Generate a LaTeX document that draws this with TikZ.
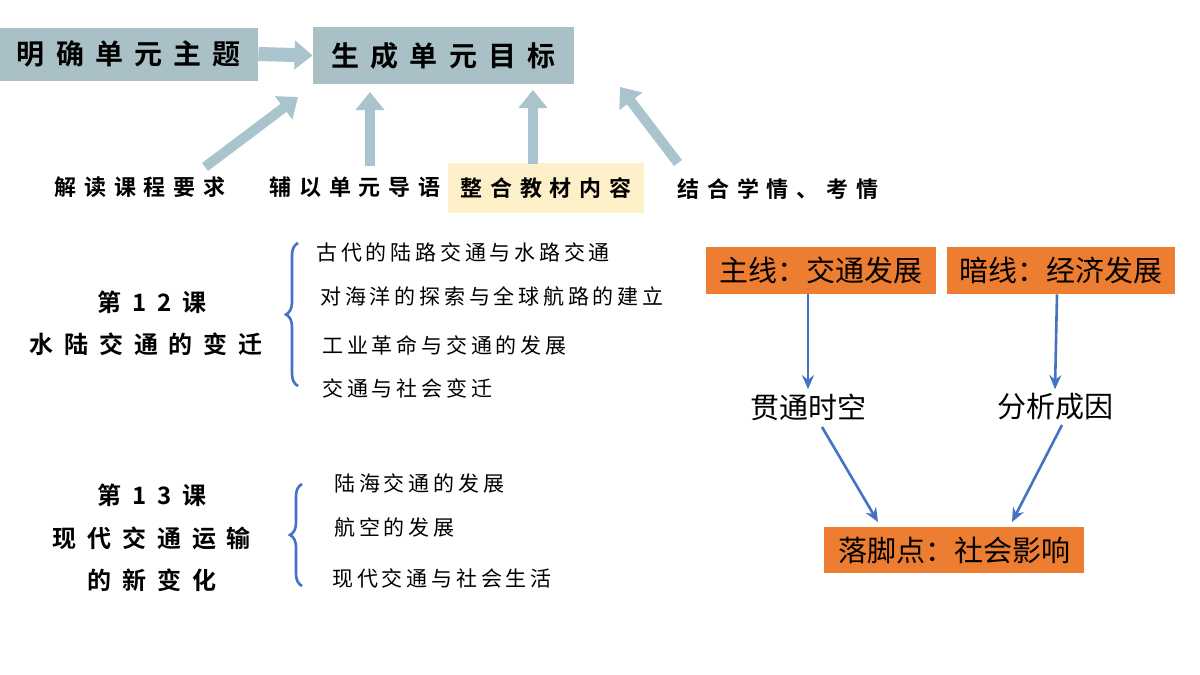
\documentclass[tikz,border=0pt]{standalone}
\usepackage{fontspec}
\usepackage{tikz}
\usetikzlibrary{arrows.meta,decorations.pathreplacing}
\newfontfamily\cjk{Noto Sans CJK SC}
\newfontfamily\cjkitem[LetterSpace=18]{Noto Sans CJK SC}
\newfontfamily\cjktitle[LetterSpace=40]{Noto Sans CJK SC Bold}
\newfontfamily\cjkup[LetterSpace=35]{Noto Sans CJK SC Bold}
\newfontfamily\cjklesson[LetterSpace=45]{Noto Sans CJK SC Bold}
\definecolor{titlebox}{HTML}{A9C1C6}
\definecolor{bigarrow}{HTML}{A9C4CC}
\definecolor{mainorange}{HTML}{ED7D31}
\definecolor{lineblue}{HTML}{4472C4}
\definecolor{paleyellow}{HTML}{FDF0C8}
\tikzset{
  titlenode/.style={fill=titlebox,font=\cjktitle\fontsize{14}{16}\selectfont,inner sep=0pt},
  uplabel/.style={font=\cjkup\fontsize{11}{13}\selectfont,inner sep=1pt},
  lessonlabel/.style={font=\cjklesson\fontsize{12}{14}\selectfont,inner sep=1pt},
  itemlabel/.style={font=\cjkitem\fontsize{10.5}{12}\selectfont,anchor=west,inner sep=1pt},
  orangebox/.style={fill=mainorange,font=\cjk\fontsize{14.5}{16}\selectfont,inner sep=0pt},
  sidelabel/.style={font=\cjk\fontsize{14.5}{16}\selectfont,inner sep=2pt},
  fatarrow/.style={draw=bigarrow,line width=5pt,-{Triangle[length=9pt,width=14pt]}},
  bluearrow/.style={draw=lineblue,line width=1.3pt,-{Stealth[length=7pt,width=6pt]}},
  bracestyle/.style={draw=lineblue,line width=1.3pt,decorate,decoration={brace,amplitude=6pt,mirror}}
}
\begin{document}
\begin{tikzpicture}[x=0.5pt,y=-0.5pt]
  \useasboundingbox[fill=white] (0,0) rectangle (1200,675);

  % top row
  \node[titlenode,minimum width=129pt,minimum height=26.5pt] (theme) at (129,54) {明确单元主题};
  \node[titlenode,minimum width=130.5pt,minimum height=28.5pt] (goal) at (443.5,55.5) {生成单元目标};
  \draw[fatarrow,line width=7pt] (theme.east) -- (goal.west);

  \node[uplabel] (req) at (140,187) {解读课程要求};
  \node[uplabel] (intro) at (355,187) {辅以单元导语};
  \node[uplabel,fill=paleyellow,minimum width=98pt,minimum height=25pt] (text) at (546,188) {整合教材内容};
  \node[uplabel] (situ) at (778,189) {结合学情、考情};
  \coordinate (a1) at (205,167);
  \coordinate (a2) at (370,166);
  \coordinate (a3) at (533,164);
  \coordinate (a4) at (678,163);
  \draw[fatarrow] (a1) -- (298,97);
  \draw[fatarrow] (a2) -- (370,92);
  \draw[fatarrow] (a3) -- (533,90);
  \draw[fatarrow] (a4) -- (620,87);

  % lesson 12
  \node[lessonlabel] (l12) at (152,302) {第12课};
  \node[lessonlabel] (l12b) at (146,344) {水陆交通的变迁};
  \draw[bracestyle] (298,243) -- (298,386);
  \node[itemlabel] (i1) at (314,252) {古代的陆路交通与水路交通};
  \node[itemlabel] (i2) at (318,296) {对海洋的探索与全球航路的建立};
  \node[itemlabel] (i3) at (320,345) {工业革命与交通的发展};
  \node[itemlabel] (i4) at (320,388) {交通与社会变迁};

  % lesson 13
  \node[lessonlabel] (l13) at (152,495) {第13课};
  \node[lessonlabel] (l13b) at (152,538) {现代交通运输};
  \node[lessonlabel] (l13c) at (152,580) {的新变化};
  \draw[bracestyle] (302,484) -- (302,586);
  \node[itemlabel] (j1) at (332,483) {陆海交通的发展};
  \node[itemlabel] (j2) at (332,527) {航空的发展};
  \node[itemlabel] (j3) at (330,578) {现代交通与社会生活};

  % right part
  \node[orangebox,minimum width=115pt,minimum height=23.5pt] (mainline) at (821,270.5) {主线：交通发展};
  \node[orangebox,minimum width=114pt,minimum height=23.5pt] (hidden) at (1061,270.5) {暗线：经济发展};
  \node[orangebox,minimum width=130pt,minimum height=23pt] (impact) at (954,550) {落脚点：社会影响};
  \node[sidelabel] (span) at (808,407) {贯通时空};
  \node[sidelabel] (cause) at (1055,407) {分析成因};
  \draw[bluearrow] (mainline.south -| 808,0) -- (span.north);
  \draw[bluearrow] (hidden.south -| 1057,0) -- (cause.north);
  \draw[bluearrow] (822,427) -- (878,522);
  \draw[bluearrow] (1062,425) -- (1012,522);
\end{tikzpicture}
\end{document}
